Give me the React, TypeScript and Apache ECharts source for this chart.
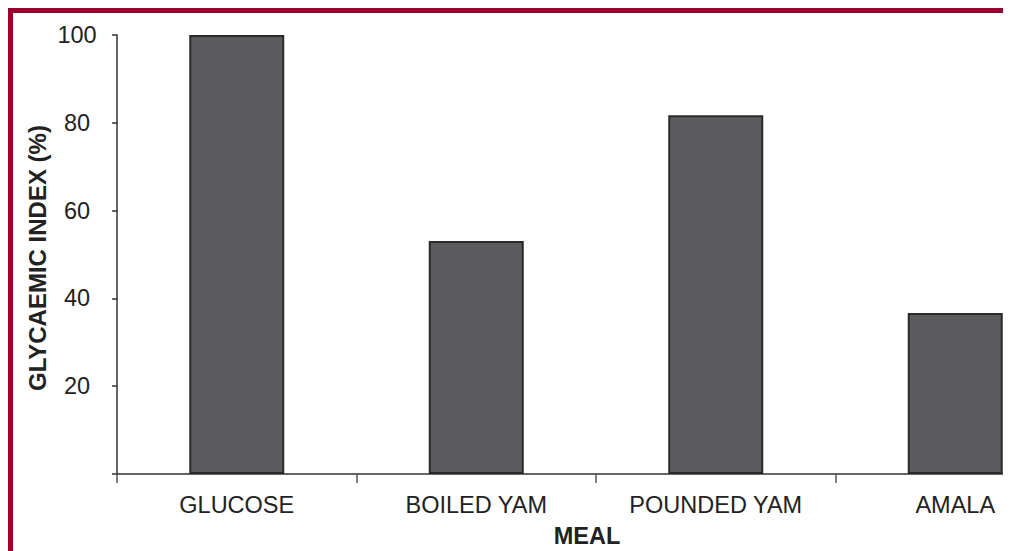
import React, { useEffect, useRef } from "react";
import * as echarts from "echarts";

const categories = ["GLUCOSE", "BOILED YAM", "POUNDED YAM", "AMALA"];
const glycaemicIndex = [100, 53.1, 81.7, 36.7];
const yTicks = { min: 0, max: 100, interval: 20 };
const xAxisTitle = "MEAL";
const yAxisTitle = "GLYCAEMIC INDEX (%)";

const FONT = "'Liberation Sans', Arial, sans-serif";

export default function App() {
  const ref = useRef<HTMLDivElement>(null);
  useEffect(() => {
    if (!ref.current) return;
    const chart = echarts.init(ref.current, undefined, { renderer: "svg" });
    chart.setOption({
      animation: false,
      textStyle: { fontFamily: FONT },
      grid: { left: 109, top: 27, right: 133, bottom: 77 },
      xAxis: {
        type: "category",
        data: categories,
        axisLine: { lineStyle: { color: "#333", width: 1.5 } },
        axisTick: { show: true, length: 9, alignWithLabel: false, lineStyle: { color: "#555", width: 1.5 } },
        axisLabel: { color: "#222", fontSize: 23.5, fontFamily: FONT, margin: 19 },
        splitLine: { show: false },
      },
      yAxis: {
        type: "value",
        min: yTicks.min,
        max: yTicks.max,
        interval: yTicks.interval,
        axisLine: { show: true, lineStyle: { color: "#333", width: 1.5 } },
        axisTick: { show: true, length: 5, lineStyle: { color: "#333", width: 1.5 } },
        axisLabel: {
          color: "#222",
          fontSize: 23.5,
          fontFamily: FONT,
          margin: 40,
          align: "center",
          formatter: (v: number) => (v === 0 ? "" : String(v)),
        },
        splitLine: { show: false },
      },
      graphic: [
        {
          type: "text",
          x: 29.5,
          y: 250,
          rotation: Math.PI / 2,
          style: {
            text: yAxisTitle,
            fontSize: 24,
            fontWeight: "bold",
            fontFamily: FONT,
            fill: "#222",
            align: "center",
            verticalAlign: "middle",
          },
        },
        {
          type: "text",
          x: 579,
          y: 527.5,
          style: {
            text: xAxisTitle,
            fontSize: 23.5,
            fontWeight: "bold",
            fontFamily: FONT,
            fill: "#222",
            align: "center",
            verticalAlign: "middle",
          },
        },
      ],
      series: [
        {
          type: "bar",
          data: glycaemicIndex,
          barWidth: 95,
          itemStyle: { color: "#5b5b5d", borderColor: "#2a2a2a", borderWidth: 2 },
        },
      ],
    });
    return () => chart.dispose();
  }, []);

  return (
    <div style={{ position: "relative", width: 1003, height: 543, overflow: "hidden" }}>
      <div ref={ref} style={{ position: "absolute", left: 0, top: 0, width: 1200, height: 543 }} />
      <div
        style={{
          position: "absolute",
          left: 0,
          top: 0,
          width: 1100,
          height: 700,
          borderLeft: "5px solid #9b0030",
          borderTop: "5px solid #9b0030",
          pointerEvents: "none",
        }}
      />
    </div>
  );
}
